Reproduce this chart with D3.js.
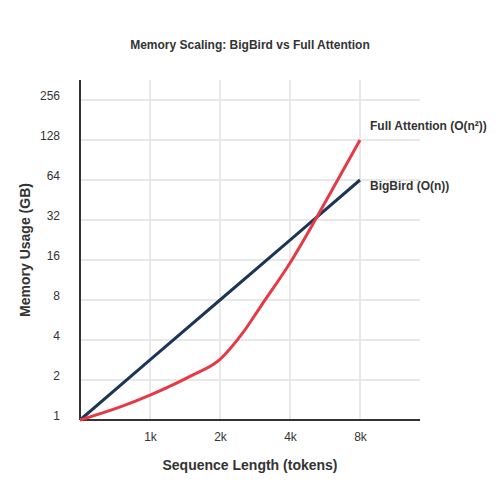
<!DOCTYPE html>
<html>
<head>
<meta charset="utf-8">
<script src="https://cdn.jsdelivr.net/npm/d3@7"></script>
<style>
  body { margin: 0; background: #fff; }
  text { font-family: "Liberation Sans", Arial, sans-serif; fill: #333; }
  .grid line { stroke: #e8e8e8; stroke-width: 2; }
  .axis-line { stroke: #333; stroke-width: 2; }
</style>
</head>
<body>
<div class="container"></div>
<script>
// data
var seqLens = [512, 768, 1024, 1536, 2048, 2560, 3072, 4096, 6144, 8192];
var fullAttention = [1, 1.26, 1.54, 2.15, 2.86, 4.5, 7.2, 15.2, 52, 128];
var bigbirdLens = [512, 1024, 2048, 4096, 8192];
var bigbird = [1, 2.83, 8, 22.6, 64];
var xTicks = [1024, 2048, 4096, 8192];
var xTickLabels = ["1k", "2k", "4k", "8k"];
var yTicks = [1, 2, 4, 8, 16, 32, 64, 128, 256];

var margin = {top: 80, right: 80, bottom: 80, left: 80};
var width = 500 - margin.left - margin.right;
var height = 500 - margin.top - margin.bottom;

// 70px per doubling on x, 40px per doubling on y
var x = d3.scaleLog().base(2).domain([512, 16384]).range([0, 350]);
var y = d3.scaleLog().base(2).domain([1, 512]).range([height, height - 360]);

var svg = d3.select(".container")
    .append("svg")
    .attr("width", 500)
    .attr("height", 500);

var g = svg.append("g")
    .attr("transform", "translate(" + margin.left + "," + margin.top + ")");

// gridlines
g.append("g")
    .attr("class", "grid")
    .selectAll("line")
    .data(yTicks)
    .enter().append("line")
    .attr("x1", 0).attr("x2", width)
    .attr("y1", function(d) { return y(d); })
    .attr("y2", function(d) { return y(d); });

g.append("g")
    .attr("class", "grid")
    .selectAll("line")
    .data(xTicks)
    .enter().append("line")
    .attr("y1", 0).attr("y2", height)
    .attr("x1", function(d) { return x(d); })
    .attr("x2", function(d) { return x(d); });

// axes (no tick marks, labels only)
var xAxis = g.append("g")
    .attr("transform", "translate(0," + height + ")")
    .call(d3.axisBottom(x).tickValues(xTicks).tickSize(0).tickPadding(12)
      .tickFormat(function(d, i) { return xTickLabels[i]; }));
xAxis.select(".domain").remove();
xAxis.selectAll("text").style("font-size", "12px").style("fill", "#333");

var yAxis = g.append("g")
    .call(d3.axisLeft(y).tickValues(yTicks).tickSize(0).tickPadding(20)
      .tickFormat(d3.format("d")));
yAxis.select(".domain").remove();
yAxis.selectAll("text").style("font-size", "12px").style("fill", "#333").attr("y", -4);

g.append("line").attr("class", "axis-line")
    .attr("x1", 0).attr("x2", width).attr("y1", height).attr("y2", height);
g.append("line").attr("class", "axis-line")
    .attr("x1", 0).attr("x2", 0).attr("y1", 0).attr("y2", height);

// lines
var line = d3.line()
    .x(function(d) { return x(d[0]); })
    .y(function(d) { return y(d[1]); });

var faData = d3.zip(seqLens, fullAttention);
var bbData = d3.zip(bigbirdLens, bigbird);

g.append("path")
    .datum(bbData)
    .attr("fill", "none")
    .attr("stroke", "#1d3557")
    .attr("stroke-width", 3)
    .attr("d", line);

g.append("path")
    .datum(faData)
    .attr("fill", "none")
    .attr("stroke", "#e63946")
    .attr("stroke-width", 3)
    .attr("stroke-linejoin", "round")
    .attr("d", line.curve(d3.curveMonotoneX));

// end labels
g.append("text")
    .attr("x", x(8192) + 10)
    .attr("y", y(128) - 10)
    .style("font-size", "12px")
    .style("font-weight", "bold")
    .text("Full Attention (O(n²))");

g.append("text")
    .attr("x", x(8192) + 10)
    .attr("y", y(64) + 10)
    .style("font-size", "12px")
    .style("font-weight", "bold")
    .text("BigBird (O(n))");

// titles
svg.append("text")
    .attr("x", 250).attr("y", 49)
    .attr("text-anchor", "middle")
    .style("font-size", "12px")
    .style("font-weight", "bold")
    .text("Memory Scaling: BigBird vs Full Attention");

svg.append("text")
    .attr("x", 250).attr("y", 470)
    .attr("text-anchor", "middle")
    .style("font-size", "14px")
    .style("font-weight", "bold")
    .text("Sequence Length (tokens)");

svg.append("text")
    .attr("transform", "translate(30,250) rotate(-90)")
    .attr("text-anchor", "middle")
    .style("font-size", "14px")
    .style("font-weight", "bold")
    .text("Memory Usage (GB)");
</script>
</body>
</html>
